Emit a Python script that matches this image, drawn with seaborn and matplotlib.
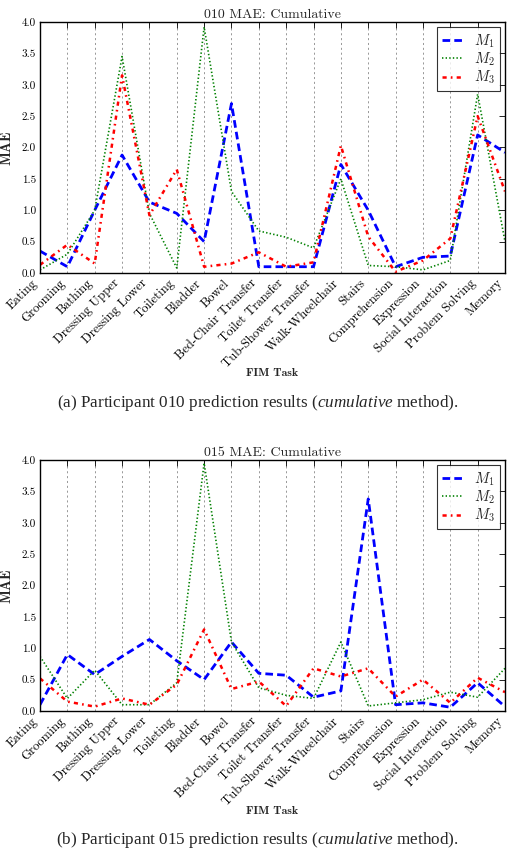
import matplotlib
matplotlib.use("Agg")
import matplotlib.pyplot as plt
import seaborn as sns

tasks = ["Eating", "Grooming", "Bathing", "Dressing Upper", "Dressing Lower",
         "Toileting", "Bladder", "Bowel", "Bed-Chair Transfer", "Toilet Transfer",
         "Tub-Shower Transfer", "Walk-Wheelchair", "Stairs", "Comprehension",
         "Expression", "Social Interaction", "Problem Solving", "Memory"]

# participant 010
p010_m1 = [0.35, 0.10, 1.00, 1.88, 1.13, 0.95, 0.50, 2.70, 0.10, 0.10, 0.10, 1.73,
           1.00, 0.10, 0.25, 0.27, 2.20, 1.92]
p010_m2 = [0.05, 0.30, 1.00, 3.45, 0.95, 0.08, 3.92, 1.30, 0.67, 0.57, 0.40, 1.50,
           0.12, 0.10, 0.05, 0.20, 2.85, 0.50]
p010_m3 = [0.13, 0.45, 0.15, 3.15, 0.92, 1.65, 0.10, 0.15, 0.33, 0.10, 0.17, 2.03,
           0.58, 0.02, 0.20, 0.55, 2.50, 1.30]

# participant 015
p015_m1 = [0.10, 0.90, 0.58, 0.87, 1.14, 0.80, 0.50, 1.10, 0.60, 0.57, 0.22, 0.32,
           3.38, 0.10, 0.13, 0.06, 0.45, 0.07]
p015_m2 = [0.87, 0.20, 0.65, 0.10, 0.10, 0.45, 3.95, 1.10, 0.37, 0.25, 0.20, 1.10,
           0.08, 0.13, 0.18, 0.30, 0.22, 0.68]
p015_m3 = [0.52, 0.15, 0.07, 0.20, 0.10, 0.42, 1.30, 0.35, 0.47, 0.08, 0.68, 0.55,
           0.68, 0.23, 0.50, 0.13, 0.53, 0.30]

model_names = [r"$M_1$", r"$M_2$", r"$M_3$"]
colors = ["#0000ff", "#008000", "#ff0000"]
styles = [(0, (5.5, 3)), (0, (1, 1.6)), (0, (3, 3, 1.2, 3))]
widths = [2.0, 1.2, 1.8]

sns.set_style("white")
plt.rcParams["font.family"] = ["cmr10", "DejaVu Serif"]
plt.rcParams["mathtext.fontset"] = "cm"
plt.rcParams["axes.formatter.use_mathtext"] = True
plt.rcParams["lines.scale_dashes"] = False
plt.rcParams["mathtext.it"] = "Liberation Serif:italic"
plt.rcParams["mathtext.rm"] = "Liberation Serif"


def draw_panel(ax, series, title):
    for vals, name, c, ls, lw in zip(series, model_names, colors, styles, widths):
        sns.lineplot(x=tasks, y=vals, ax=ax, color=c, linestyle=ls, linewidth=lw,
                     label=name, sort=False)
    ax.set_xlim(0, len(tasks) - 1)
    ax.set_ylim(0, 4.0)
    ax.set_yticks([i * 0.5 for i in range(9)])
    ax.set_yticklabels(["%.1f" % (i * 0.5) for i in range(9)], fontsize=8)
    ax.set_xticks(range(len(tasks)))
    ax.set_xticklabels(tasks, rotation=45, ha="right", fontsize=9.2)
    ax.grid(axis="x", color="#888888", linestyle=(0, (1.5, 2)), linewidth=0.6)
    ax.tick_params(direction="in", length=4, width=0.6, top=True, right=True,
                   labelright=False, labeltop=False, colors="black", pad=3)
    for sp in ax.spines.values():
        sp.set_color("black")
        sp.set_linewidth(1.0)
    ax.set_title(title, fontsize=10, pad=3)
    ax.set_xlabel("FIM Task", fontsize=8.5, family=["cmb10", "DejaVu Serif"])
    ax.set_ylabel("MAE", fontsize=10.5, family=["cmb10", "DejaVu Serif"])
    ax.xaxis.set_label_coords(0.5, -0.378)
    ax.yaxis.set_label_coords(-0.058, 0.5)
    leg = ax.legend(loc="upper right", fontsize=10.5, handlelength=1.4,
                    frameon=True, fancybox=False, borderaxespad=0.35,
                    labelspacing=0.05, handletextpad=0.8, borderpad=0.35)
    leg.get_frame().set_edgecolor("black")
    leg.get_frame().set_linewidth(0.8)


fig = plt.figure(figsize=(5.15, 8.58), dpi=100)
ax1 = fig.add_axes([40 / 515, 1 - 273 / 858, 465 / 515, 251 / 858])
ax2 = fig.add_axes([40 / 515, 1 - 711 / 858, 465 / 515, 251 / 858])

draw_panel(ax1, [p010_m1, p010_m2, p010_m3], "010 MAE: Cumulative")
draw_panel(ax2, [p015_m1, p015_m2, p015_m3], "015 MAE: Cumulative")

fig.text(0.5, 1 - 403 / 858,
         r"(a) Participant 010 prediction results ($\mathit{cumulative}$ method).",
         ha="center", va="center", fontsize=12.3, family="Liberation Serif",
         math_fontfamily="custom")
fig.text(0.5, 1 - 840 / 858,
         r"(b) Participant 015 prediction results ($\mathit{cumulative}$ method).",
         ha="center", va="center", fontsize=12.3, family="Liberation Serif",
         math_fontfamily="custom")

fig.savefig("out.png", dpi=100)
